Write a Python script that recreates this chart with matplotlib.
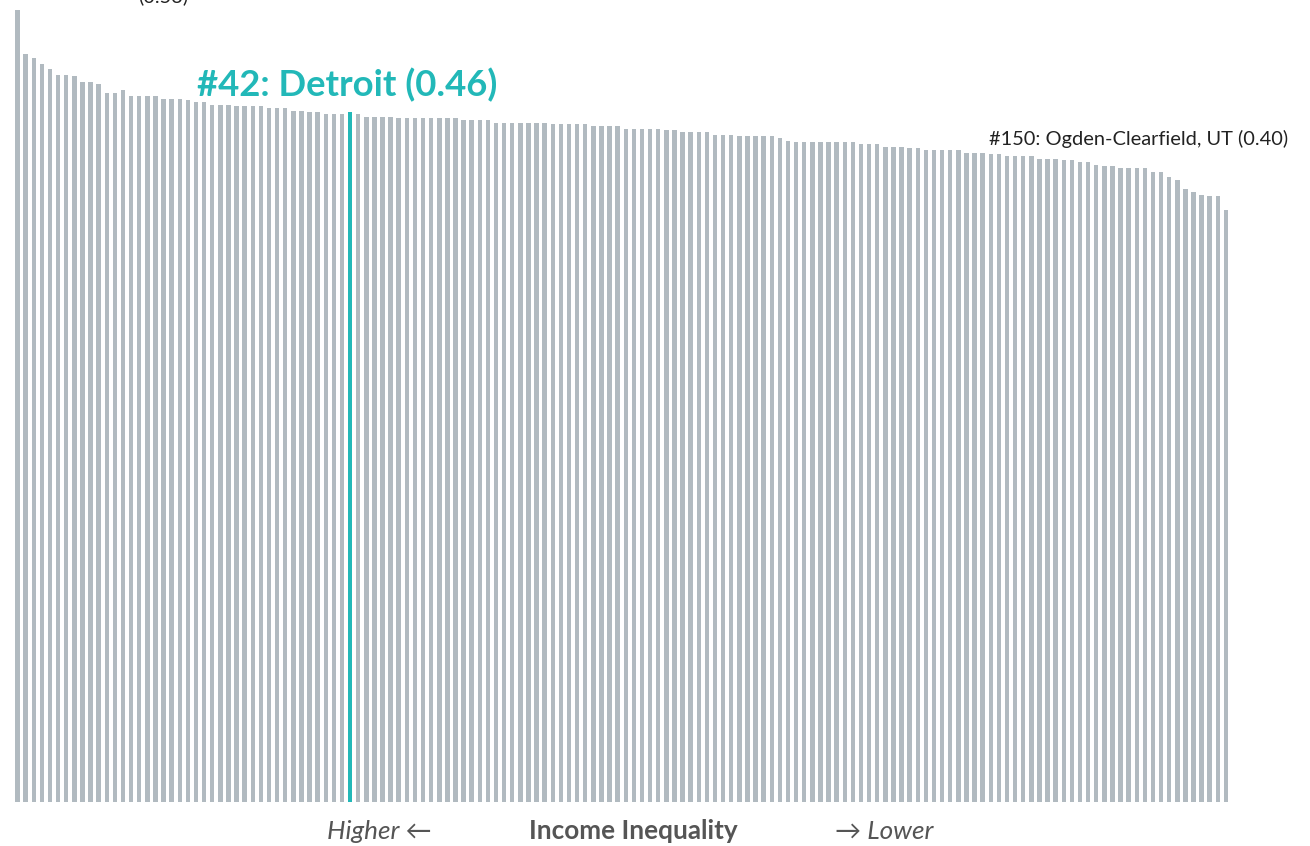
import matplotlib
matplotlib.use("Agg")
import matplotlib.pyplot as plt
import numpy as np

plt.rcParams['font.family'] = ['Lato', 'DejaVu Sans']

# Income inequality (Gini) by metro rank, 1..150
ranks = list(range(1, 151))
values = [
    0.528, 0.499, 0.496, 0.492, 0.489, 0.485, 0.485, 0.484, 0.480, 0.480,
    0.479, 0.473, 0.473, 0.475, 0.471, 0.471, 0.471, 0.471, 0.469, 0.469,
    0.469, 0.468, 0.467, 0.467, 0.465, 0.465, 0.465, 0.464, 0.464, 0.464,
    0.464, 0.463, 0.463, 0.463, 0.461, 0.461, 0.460, 0.460, 0.459, 0.459,
    0.459, 0.460, 0.459, 0.457, 0.457, 0.457, 0.457, 0.456, 0.456, 0.456,
    0.456, 0.456, 0.456, 0.456, 0.456, 0.455, 0.455, 0.455, 0.455, 0.453,
    0.453, 0.453, 0.453, 0.453, 0.453, 0.453, 0.452, 0.452, 0.452, 0.452,
    0.452, 0.451, 0.451, 0.451, 0.451, 0.449, 0.449, 0.449, 0.449, 0.449,
    0.448, 0.448, 0.447, 0.447, 0.447, 0.447, 0.445, 0.445, 0.445, 0.444,
    0.444, 0.444, 0.444, 0.444, 0.443, 0.441, 0.440, 0.440, 0.440, 0.440,
    0.440, 0.440, 0.440, 0.440, 0.439, 0.439, 0.439, 0.437, 0.437, 0.437,
    0.436, 0.436, 0.435, 0.435, 0.435, 0.435, 0.435, 0.433, 0.433, 0.433,
    0.432, 0.432, 0.431, 0.431, 0.431, 0.431, 0.429, 0.429, 0.429, 0.428,
    0.428, 0.427, 0.427, 0.425, 0.424, 0.424, 0.423, 0.423, 0.423, 0.423,
    0.420, 0.420, 0.417, 0.415, 0.409, 0.407, 0.405, 0.404, 0.404, 0.395,
]
highlight_rank = 42
highlight_label = "#42: Detroit (0.46)"
top_label = "(0.53)"
last_label = "#150: Ogden-Clearfield, UT (0.40)"
axis_title = "Income Inequality"
left_label = "Higher \u2190"
right_label = "\u2192 Lower"

GREY = "#b1bac0"
TEAL = "#22b8b8"
TEXT = "#555555"

W, H = 1310, 846
fig = plt.figure(figsize=(W / 100, H / 100), dpi=100)
# axes placement in pixels
x0, x1 = 13.5, 1230.0
ybase, ytop = 802.0, 0.0
ax = fig.add_axes([x0 / W, (H - ybase) / H, (x1 - x0) / W, (ybase - ytop) / H])
ymax = 0.5347
ax.set_xlim(0.5, 150.5)
ax.set_ylim(0, ymax)

colors = [TEAL if r == highlight_rank else GREY for r in ranks]
ax.bar(ranks, values, width=0.55, color=colors, linewidth=0)
ax.axis("off")

# annotations
ax.text(highlight_rank - 18.85, values[highlight_rank - 1] + 0.0068, highlight_label,
        color=TEAL, fontsize=26.3, fontweight="bold", ha="left", va="bottom")
fig.text(1288 / W, 1 - 148 / H, last_label, color="#222222", fontsize=14.4,
         ha="right", va="bottom")
fig.text(138 / W, 1 + 4 / H, top_label, color="#222222", fontsize=14.4,
         ha="left", va="center")

ylab = 1 - 831 / H
fig.text(432 / W, ylab, left_label, color=TEXT, fontsize=18.8, style="italic",
         ha="right", va="center")
fig.text(633 / W, ylab, axis_title, color=TEXT, fontsize=18.8, fontweight="bold",
         ha="center", va="center")
fig.text(835 / W, ylab, right_label, color=TEXT, fontsize=18.8, style="italic",
         ha="left", va="center")

fig.savefig("out.png", dpi=100)
